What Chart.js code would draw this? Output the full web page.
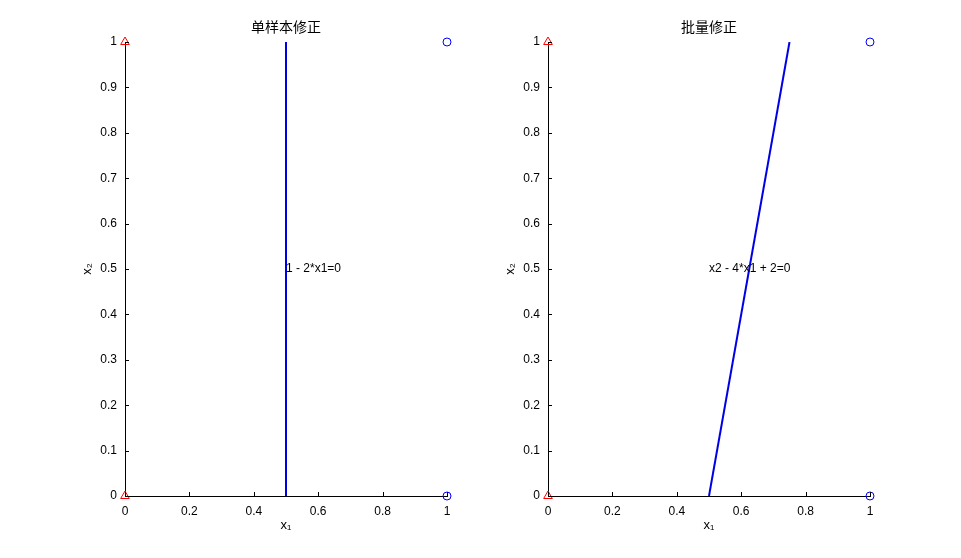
<!DOCTYPE html>
<html lang="zh">

<head>
    <meta charset="UTF-8">
    <title>单样本修正 / 批量修正</title>
    <style>
        body {
            margin: 0;
            padding: 0;
            background-color: #ffffff;
        }

        .figure {
            position: relative;
            width: 961px;
            height: 558px;
            background: #ffffff;
        }

        .panel {
            position: absolute;
            top: 0;
            height: 558px;
        }
    </style>
    <script src="https://cdn.jsdelivr.net/npm/chart.js"></script>
</head>

<body>
    <div class="figure">
        <div class="panel" style="left: 0; width: 480px;">
            <canvas id="leftChart" width="480" height="558"></canvas>
        </div>
        <div class="panel" style="left: 480px; width: 481px;">
            <canvas id="rightChart" width="481" height="558"></canvas>
        </div>
    </div>
    <script>
        // samples: class 1 (triangles) and class 2 (circles)
        const class1X = [0, 0];
        const class1Y = [0, 1];
        const class2X = [1, 1];
        const class2Y = [0, 1];

        // decision lines
        const singleLineX = [0.5, 0.5];
        const singleLineY = [0, 1];
        const batchLineX = [0.5, 0.75];
        const batchLineY = [0, 1];

        const panelTitles = ['单样本修正', '批量修正'];
        const lineLabels = ['1 - 2*x1=0', 'x2 - 4*x1 + 2=0'];
        const labelPos = [[0.5, 0.5], [0.5, 0.5]];

        const xTicks = [0, 0.2, 0.4, 0.6, 0.8, 1];
        const yTicks = [0, 0.1, 0.2, 0.3, 0.4, 0.5, 0.6, 0.7, 0.8, 0.9, 1];

        const tickFont = { family: 'Arial, "Liberation Sans", sans-serif', size: 12 };

        function toPoints(xs, ys) {
            return xs.map((x, i) => ({ x: x, y: ys[i] }));
        }

        // tick marks drawn inside the axes, plus title and line annotation
        const matlabBits = {
            id: 'matlabBits',
            afterDraw(chart, args, opts) {
                const ctx = chart.ctx;
                const xs = chart.scales.x;
                const ys = chart.scales.y;
                const area = chart.chartArea;
                ctx.save();
                ctx.strokeStyle = '#000';
                ctx.lineWidth = 1;
                ctx.beginPath();
                xTicks.forEach(v => {
                    const px = Math.round(xs.getPixelForValue(v)) + 0.5;
                    ctx.moveTo(px, area.bottom);
                    ctx.lineTo(px, area.bottom - 4);
                });
                yTicks.forEach(v => {
                    const py = Math.round(ys.getPixelForValue(v)) + 0.5;
                    ctx.moveTo(area.left, py);
                    ctx.lineTo(area.left + 4, py);
                });
                ctx.stroke();

                ctx.fillStyle = '#000';
                ctx.font = '14px "Noto Sans CJK SC", sans-serif';
                ctx.textAlign = 'center';
                ctx.textBaseline = 'middle';
                ctx.fillText(opts.title, (area.left + area.right) / 2, 27);

                ctx.font = '12px Arial, "Liberation Sans", sans-serif';
                ctx.textAlign = 'left';
                ctx.fillText(opts.label, xs.getPixelForValue(opts.pos[0]), ys.getPixelForValue(opts.pos[1]));
                ctx.restore();
            }
        };

        function makeChart(id, lineX, lineY, idx, padLeft, padRight) {
            const ctx = document.getElementById(id).getContext('2d');
            return new Chart(ctx, {
                type: 'scatter',
                data: {
                    datasets: [
                        {
                            type: 'line',
                            data: toPoints(lineX, lineY),
                            borderColor: '#0000e6',
                            borderWidth: 2,
                            pointRadius: 0,
                            showLine: true,
                            fill: false
                        },
                        {
                            data: toPoints(class1X, class1Y),
                            pointStyle: 'triangle',
                            pointRadius: 5,
                            borderColor: '#ff0000',
                            backgroundColor: 'rgba(0,0,0,0)',
                            borderWidth: 1,
                            clip: false
                        },
                        {
                            data: toPoints(class2X, class2Y),
                            pointStyle: 'circle',
                            pointRadius: 4,
                            borderColor: '#0000ff',
                            backgroundColor: 'rgba(0,0,0,0)',
                            borderWidth: 1,
                            clip: false
                        }
                    ]
                },
                options: {
                    responsive: false,
                    animation: false,
                    layout: {
                        padding: { top: 42, bottom: 22, left: padLeft, right: padRight }
                    },
                    scales: {
                        x: {
                            type: 'linear',
                            min: 0,
                            max: 1,
                            afterBuildTicks: scale => { scale.ticks = xTicks.map(v => ({ value: v })); },
                            afterFit: scale => { scale.height = 40; },
                            grid: { display: false },
                            border: { display: true, color: '#000', width: 1 },
                            ticks: { color: '#000', font: tickFont, padding: 0, maxRotation: 0, autoSkip: false,
                                callback: v => String(+v.toFixed(1)) },
                            title: { display: true, text: 'x₁', color: '#000', font: { family: tickFont.family, size: 13 }, padding: { top: 0, bottom: 3 } }
                        },
                        y: {
                            type: 'linear',
                            min: 0,
                            max: 1,
                            afterBuildTicks: scale => { scale.ticks = yTicks.map(v => ({ value: v })); },
                            afterFit: scale => { scale.width = 45; },
                            grid: { display: false },
                            border: { display: true, color: '#000', width: 1 },
                            ticks: { color: '#000', font: tickFont, padding: 0, autoSkip: false,
                                callback: v => String(+v.toFixed(1)) },
                            title: { display: true, text: 'x₂', color: '#000', font: { family: tickFont.family, size: 13 }, padding: { top: 0, bottom: 0 } }
                        }
                    },
                    plugins: {
                        legend: { display: false },
                        tooltip: { enabled: false },
                        matlabBits: { title: panelTitles[idx], label: lineLabels[idx], pos: labelPos[idx] }
                    }
                },
                plugins: [matlabBits]
            });
        }

        makeChart('leftChart', singleLineX, singleLineY, 0, 80, 33);
        makeChart('rightChart', batchLineX, batchLineY, 1, 23, 91);
    </script>
</body>

</html>
